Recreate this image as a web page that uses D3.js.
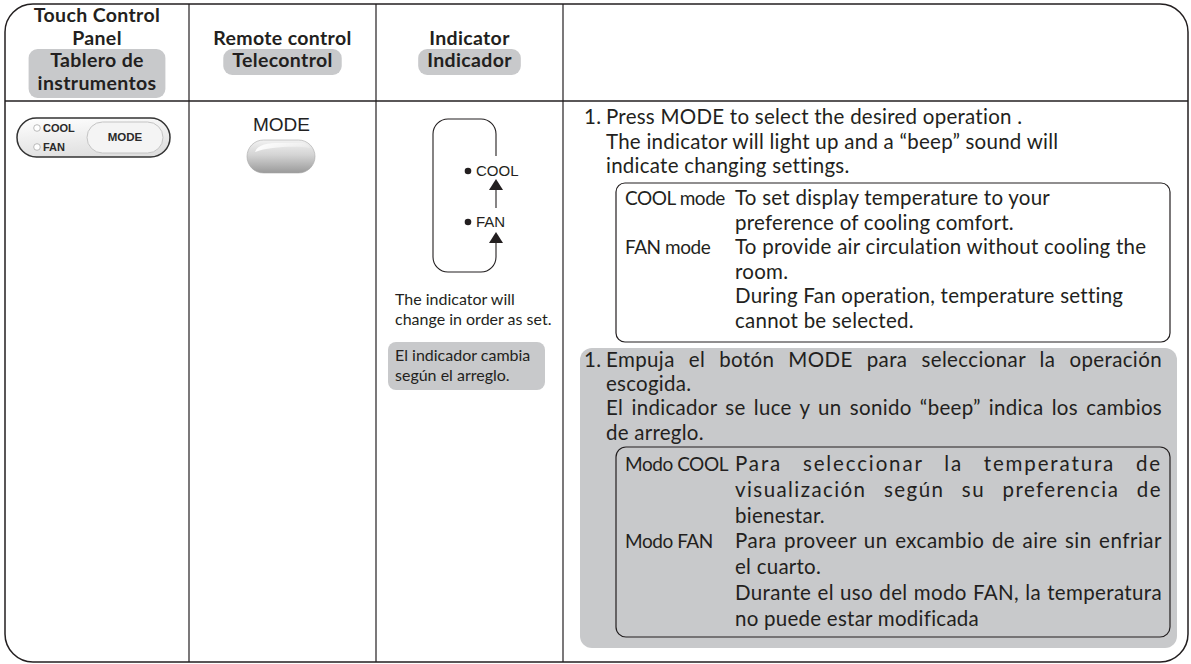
<!DOCTYPE html>
<html><head><meta charset="utf-8">
<script src="https://cdn.jsdelivr.net/npm/d3@7"></script>
<style>
html,body{margin:0;padding:0;background:#fff;}
svg{display:block;}
</style></head><body>
<script>
// ---------- content ----------
const headerEn = [["Touch Control", "Panel"], ["Remote control"], ["Indicator"]];
const headerEs = [["Tablero de", "instrumentos"], ["Telecontrol"], ["Indicador"]];
const panelLamps = ["COOL", "FAN"];
const panelButton = "MODE";
const remoteLabel = "MODE";
const indicatorSteps = ["COOL", "FAN"];
const indicatorNoteEn = ["The indicator will", "change in order as set."];
const indicatorNoteEs = ["El indicador cambia", "según el arreglo."];
const stepNumber = "1.";
const stepEn = ["Press MODE to select the desired operation .",
  "The indicator will light up and a “beep” sound will",
  "indicate changing settings."];
const modeNamesEn = ["COOL mode", "FAN mode"];
const modeTextEn = [["To set display temperature to your", "preference of cooling comfort."],
  ["To provide air circulation without cooling the", "room.",
   "During Fan operation, temperature setting", "cannot be selected."]];
const stepEs = ["Empuja el botón MODE para seleccionar la operación", "escogida.",
  "El indicador se luce y un sonido “beep” indica los cambios", "de arreglo."];
const stepEsJustify = [true, false, true, false];
const modeNamesEs = ["Modo COOL", "Modo FAN"];
const modeTextEs = [["Para seleccionar la temperatura de", "visualización según su preferencia de", "bienestar."],
  ["Para proveer un excambio de aire sin enfriar", "el cuarto.",
   "Durante el uso del modo FAN, la temperatura", "no puede estar modificada"]];
const modeTextEsJustify = [[true, true, false], [true, false, true, false]];

// ---------- layout ----------
const W = 1191, H = 664;
const ink = "#231f20", shade = "#c8c9cb";
const bodyFont = "Lato, 'Open Sans', sans-serif";
const armFont = "'Liberation Sans', Arial, sans-serif";
const colEdges = [5, 189, 376, 563, 1188];
const frame = {y0: 4, y1: 662, r: 28, headerY: 101};
const colMid = i => (colEdges[i] + colEdges[i + 1]) / 2;

const svg = d3.select("body").append("svg").attr("width", W).attr("height", H);
const defs = svg.append("defs");

// gradients
const g1 = defs.append("linearGradient").attr("id", "pill").attr("x1", 0).attr("y1", 0).attr("x2", 0.3).attr("y2", 1);
g1.append("stop").attr("offset", 0).attr("stop-color", "#ffffff");
g1.append("stop").attr("offset", 1).attr("stop-color", "#e0e0e0");
const g2 = defs.append("linearGradient").attr("id", "btn").attr("x1", 0).attr("y1", 0).attr("x2", 0).attr("y2", 1);
g2.append("stop").attr("offset", 0).attr("stop-color", "#f2f2f2");
g2.append("stop").attr("offset", 0.45).attr("stop-color", "#d4d4d4");
g2.append("stop").attr("offset", 1).attr("stop-color", "#9a9a9a");
const g3 = defs.append("linearGradient").attr("id", "btnHi").attr("x1", 0).attr("y1", 0).attr("x2", 1).attr("y2", 0);
g3.append("stop").attr("offset", 0).attr("stop-color", "#ffffff").attr("stop-opacity", 0.95);
g3.append("stop").attr("offset", 1).attr("stop-color", "#ffffff").attr("stop-opacity", 0.2);

// ---------- frame ----------
svg.append("rect")
  .attr("x", colEdges[0]).attr("y", frame.y0)
  .attr("width", colEdges[4] - colEdges[0]).attr("height", frame.y1 - frame.y0)
  .attr("rx", frame.r).attr("ry", frame.r)
  .attr("fill", "none").attr("stroke", ink).attr("stroke-width", 1.5);
svg.append("line").attr("x1", colEdges[0]).attr("x2", colEdges[4])
  .attr("y1", frame.headerY).attr("y2", frame.headerY).attr("stroke", ink).attr("stroke-width", 1.3);
svg.selectAll("line.col").data(colEdges.slice(1, 4)).join("line").attr("class", "col")
  .attr("x1", d => d).attr("x2", d => d).attr("y1", frame.y0).attr("y2", frame.y1)
  .attr("stroke", ink).attr("stroke-width", 1.2);

// ---------- header ----------
const headLine = 23, headFs = 19.5, headLs = 0.35;
headerEn.forEach((lines, i) => {
  const esLines = headerEs[i];
  const firstBase = (i === 0) ? 22 : 45;
  const g = svg.append("g");
  lines.forEach((t, k) => {
    g.append("text").attr("x", colMid(i)).attr("y", firstBase + k * headLine)
      .attr("text-anchor", "middle").attr("font-family", bodyFont).attr("font-weight", 700)
      .attr("font-size", headFs).attr("letter-spacing", headLs).attr("fill", ink).text(t);
  });
  const esBase = firstBase + lines.length * headLine - 1;
  const boxG = g.append("g");
  const esText = esLines.map((t, k) => g.append("text").attr("x", colMid(i)).attr("y", esBase + k * headLine)
      .attr("text-anchor", "middle").attr("font-family", bodyFont).attr("font-weight", 700)
      .attr("font-size", headFs).attr("letter-spacing", headLs).attr("fill", ink).text(t));
  const wMax = d3.max(esText, s => s.node().getComputedTextLength());
  const padX = 9;
  boxG.append("rect")
    .attr("x", colMid(i) - wMax / 2 - padX).attr("width", wMax + 2 * padX)
    .attr("y", esBase - 18).attr("height", esLines.length * headLine + 3)
    .attr("rx", 9).attr("fill", shade);
});

// ---------- touch control panel ----------
const pill = {x: 17, y: 118, w: 153, h: 39};
const pg = svg.append("g");
pg.append("rect").attr("x", pill.x).attr("y", pill.y).attr("width", pill.w).attr("height", pill.h)
  .attr("rx", pill.h / 2).attr("fill", "url(#pill)").attr("stroke", "#333").attr("stroke-width", 1.5);
pg.append("rect").attr("x", 87).attr("y", 122).attr("width", 76).attr("height", 31)
  .attr("rx", 15.5).attr("fill", "#f4f4f4").attr("stroke", "#c4c4c4").attr("stroke-width", 1);
pg.append("text").attr("x", 125).attr("y", 141).attr("text-anchor", "middle")
  .attr("font-family", armFont).attr("font-weight", 700).attr("font-size", 11.5).attr("fill", "#2a2a2a").text(panelButton);
pg.selectAll("g.lamp").data(panelLamps).join("g").attr("class", "lamp")
  .attr("transform", (d, k) => `translate(37,${128 + k * 19})`)
  .each(function(d) {
    const s = d3.select(this);
    s.append("circle").attr("r", 3.3).attr("fill", "#fff").attr("stroke", "#aaa").attr("stroke-width", 0.8);
    s.append("text").attr("x", 6).attr("y", 4).attr("font-family", armFont).attr("font-weight", 700)
      .attr("font-size", 11).attr("fill", "#2a2a2a").text(d);
  });

// ---------- remote control ----------
svg.append("text").attr("x", colMid(1) - 1).attr("y", 131).attr("text-anchor", "middle")
  .attr("font-family", armFont).attr("font-size", 19).attr("fill", "#222").text(remoteLabel);
svg.append("rect").attr("x", 247).attr("y", 140).attr("width", 68).attr("height", 33)
  .attr("rx", 16.5).attr("fill", "url(#btn)").attr("stroke", "#a8a8a8").attr("stroke-width", 0.6);
svg.append("path").attr("d", "M255,152 C258,144 268,143 280,143 L300,143 C306,143 309,145 310,148 C300,146 270,146 255,152 Z")
  .attr("fill", "url(#btnHi)");

// ---------- indicator ----------
const loop = {x0: 433, x1: 496, y0: 119, y1: 272, r: 15};
const ig = svg.append("g").attr("stroke", ink).attr("fill", "none").attr("stroke-width", 1.1);
const lp = d3.path();
lp.moveTo(loop.x1, 156);
lp.lineTo(loop.x1, loop.y0 + loop.r);
lp.arcTo(loop.x1, loop.y0, loop.x1 - loop.r, loop.y0, loop.r);
lp.lineTo(loop.x0 + loop.r, loop.y0);
lp.arcTo(loop.x0, loop.y0, loop.x0, loop.y0 + loop.r, loop.r);
lp.lineTo(loop.x0, loop.y1 - loop.r);
lp.arcTo(loop.x0, loop.y1, loop.x0 + loop.r, loop.y1, loop.r);
lp.lineTo(loop.x1 - loop.r, loop.y1);
lp.arcTo(loop.x1, loop.y1, loop.x1, loop.y1 - loop.r, loop.r);
lp.lineTo(loop.x1, 242);
ig.append("path").attr("d", lp.toString());
ig.append("line").attr("x1", loop.x1).attr("x2", loop.x1).attr("y1", 208).attr("y2", 188);
const arrowTips = [179, 232];
svg.selectAll("path.arrow").data(arrowTips).join("path").attr("class", "arrow")
  .attr("d", d => `M${loop.x1},${d} L${loop.x1 + 7},${d + 11} L${loop.x1 - 7},${d + 11} Z`).attr("fill", ink);
svg.selectAll("g.step").data(indicatorSteps).join("g").attr("class", "step")
  .attr("transform", (d, k) => `translate(468,${171 + k * 51})`)
  .each(function(d) {
    const s = d3.select(this);
    s.append("circle").attr("r", 3.3).attr("fill", ink);
    s.append("text").attr("x", 8).attr("y", 5).attr("font-family", armFont)
      .attr("font-size", 15).attr("fill", ink).text(d);
  });
indicatorNoteEn.forEach((t, k) => svg.append("text").attr("x", 395).attr("y", 305 + k * 20)
  .attr("font-family", bodyFont).attr("font-size", 16).attr("fill", ink).text(t));
svg.append("rect").attr("x", 388).attr("y", 342).attr("width", 157).attr("height", 48)
  .attr("rx", 8).attr("fill", shade);
indicatorNoteEs.forEach((t, k) => svg.append("text").attr("x", 395).attr("y", 361 + k * 20)
  .attr("font-family", bodyFont).attr("font-size", 16).attr("fill", ink).text(t));

// ---------- instructions ----------
const fs = 20.5, ls = 0.25;
const nameFs = 19, nameLs = -0.45;
const numX = 584, textX = 606, boxX0 = 616, boxX1 = 1170, nameX = 625, descX = 735, rightX = 1162;
function addLine(g, x, y, t, fitW, letterShare) {
  const s = g.append("text").attr("x", x).attr("y", y).attr("font-family", bodyFont)
    .attr("font-size", fs).attr("letter-spacing", ls).attr("fill", ink).text(t);
  if (fitW) {
    const n = s.node();
    const L = n.getComputedTextLength();
    const extra = fitW - L;
    const nChars = t.length;
    const nSpaces = (t.match(/ /g) || []).length;
    const lsx = ls + Math.max(0, extra) * (letterShare || 0) / nChars;
    s.attr("letter-spacing", lsx);
    const L2 = n.getComputedTextLength();
    if (nSpaces > 0) s.attr("word-spacing", (fitW - L2) / nSpaces);
  }
  return s;
}
function addName(g, x, y, t) {
  return g.append("text").attr("x", x).attr("y", y).attr("font-family", bodyFont)
    .attr("font-size", nameFs).attr("letter-spacing", nameLs).attr("fill", ink).text(t);
}
// English block
const en = svg.append("g");
const enBase = 124, enStep = 24.5;
addLine(en, numX, enBase, stepNumber);
stepEn.forEach((t, k) => addLine(en, textX, enBase + k * enStep, t));
const enBox = {y0: 183, y1: 342};
en.append("rect").attr("x", boxX0).attr("y", enBox.y0).attr("width", boxX1 - boxX0)
  .attr("height", enBox.y1 - enBox.y0).attr("rx", 9).attr("fill", "none").attr("stroke", ink).attr("stroke-width", 1.2);
let row = 0;
const enModeBase = 205;
modeNamesEn.forEach((name, m) => {
  addName(en, nameX, enModeBase + row * enStep, name);
  modeTextEn[m].forEach(t => { addLine(en, descX, enModeBase + row * enStep, t); row++; });
});
// Spanish block
const es = svg.append("g");
es.append("rect").attr("x", 580).attr("y", 348).attr("width", 597).attr("height", 300)
  .attr("rx", 12).attr("fill", shade);
const esBase = 367, esStep = 24.2;
addLine(es, numX, esBase, stepNumber);
stepEs.forEach((t, k) => addLine(es, textX, esBase + k * esStep, t, stepEsJustify[k] ? rightX - textX : null, 0.1));
const esBox = {y0: 447, y1: 637};
es.append("rect").attr("x", boxX0).attr("y", esBox.y0).attr("width", boxX1 - boxX0)
  .attr("height", esBox.y1 - esBox.y0).attr("rx", 10).attr("fill", "none").attr("stroke", ink).attr("stroke-width", 1.2);
row = 0;
const esModeBase = 471, esModeStep = 25.8;
modeNamesEs.forEach((name, m) => {
  addName(es, nameX, esModeBase + row * esModeStep, name);
  modeTextEs[m].forEach((t, k) => {
    addLine(es, descX, esModeBase + row * esModeStep, t, modeTextEsJustify[m][k] ? rightX - descX : null, 0.5);
    row++;
  });
});
</script>
</body></html>
